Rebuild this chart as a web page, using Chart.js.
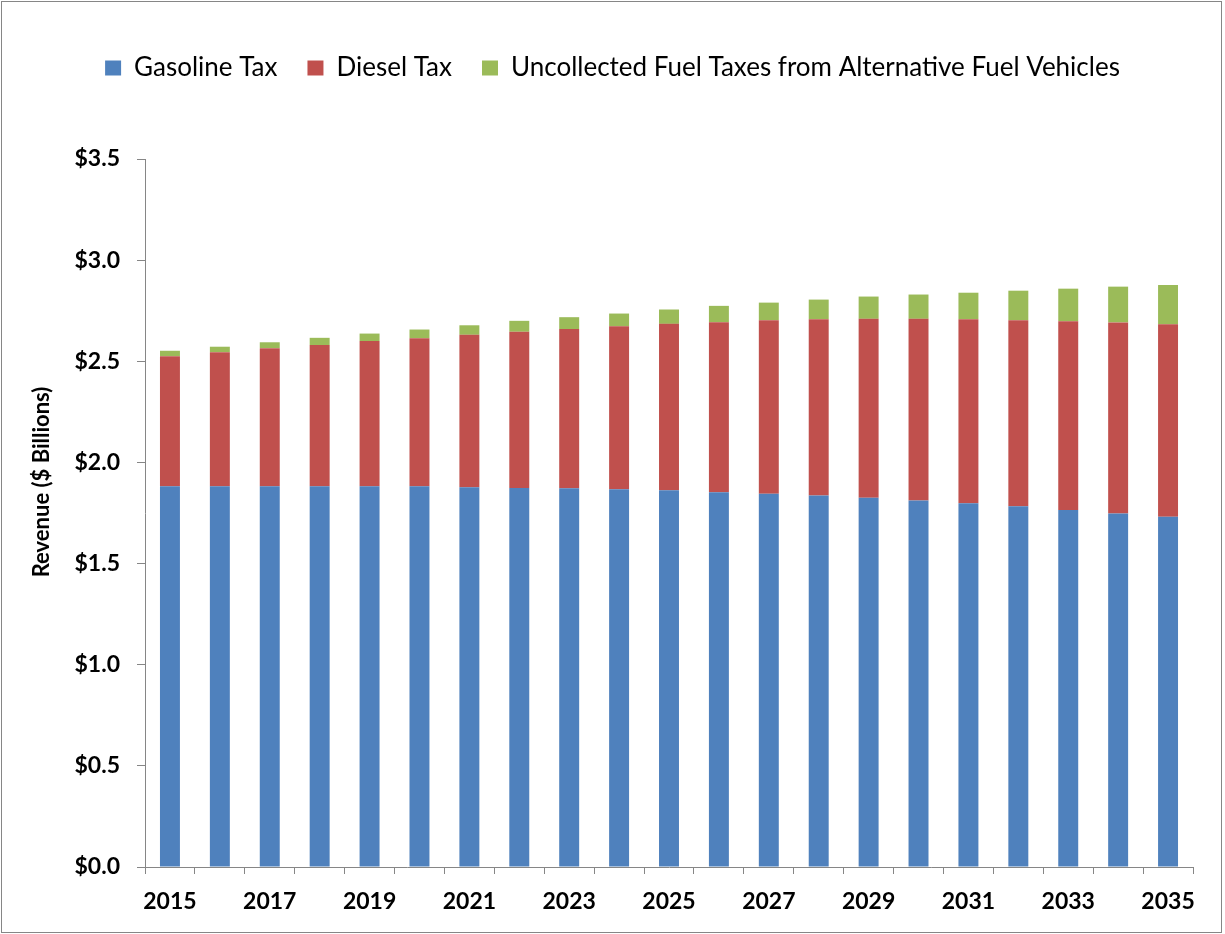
<!DOCTYPE html>
<html>
<head>
<meta charset="utf-8">
<script src="https://cdn.jsdelivr.net/npm/chart.js@4/dist/chart.umd.min.js"></script>
<style>
  body { margin: 0; background: #fff; }
  canvas { display: block; }
</style>
</head>
<body>
<canvas id="revChart" width="1225" height="934"></canvas>
<script>
// data ($ billions)
const years = ['2015','2016','2017','2018','2019','2020','2021','2022','2023','2024','2025',
               '2026','2027','2028','2029','2030','2031','2032','2033','2034','2035'];
const gasolineTax = [1.882,1.882,1.882,1.882,1.882,1.882,1.877,1.873,1.872,1.867,1.862,
                     1.853,1.845,1.837,1.825,1.812,1.798,1.783,1.765,1.747,1.732];
const dieselTax = [0.643,0.663,0.683,0.698,0.718,0.732,0.754,0.773,0.787,0.806,0.823,
                   0.840,0.858,0.871,0.885,0.898,0.910,0.920,0.933,0.945,0.951];
const uncollected = [0.027,0.027,0.029,0.036,0.037,0.043,0.047,0.054,0.059,0.063,0.071,
                     0.081,0.087,0.097,0.110,0.120,0.131,0.146,0.161,0.177,0.194];
const yTicks = [0, 0.5, 1.0, 1.5, 2.0, 2.5, 3.0, 3.5];

const axisGray = '#868686';
const tickFont = { family: 'Lato', size: 23, weight: 'bold' };

// border round the whole picture, extra room under the legend, rotated y title
const frame = {
    id: 'frame',
    beforeInit(chart) {
        const fit = chart.legend.fit;
        chart.legend.fit = function() {
            fit.call(this);
            this.height += 68;
        };
    },
    beforeDraw(chart) {
        const ctx = chart.ctx;
        ctx.save();
        ctx.fillStyle = '#fff';
        ctx.fillRect(0, 0, chart.width, chart.height);
        ctx.strokeStyle = axisGray;
        ctx.lineWidth = 1;
        ctx.strokeRect(1.5, 1.5, 1220, 931);
        ctx.restore();
    },
    afterDraw(chart) {
        const ctx = chart.ctx;
        const y = chart.scales.y;
        ctx.save();
        ctx.translate(42, (y.top + y.bottom) / 2 - 31);
        ctx.rotate(-Math.PI / 2);
        ctx.font = 'bold 22px Lato';
        ctx.fillStyle = '#000';
        ctx.textAlign = 'center';
        ctx.textBaseline = 'middle';
        ctx.fillText('Revenue ($ Billions)', 0, 0);
        ctx.restore();
    }
};

new Chart(document.getElementById('revChart').getContext('2d'), {
    type: 'bar',
    data: {
        labels: years,
        datasets: [{
            label: 'Gasoline Tax',
            data: gasolineTax,
            backgroundColor: '#4F81BD'
        }, {
            label: 'Diesel Tax',
            data: dieselTax,
            backgroundColor: '#C0504D'
        }, {
            label: 'Uncollected Fuel Taxes from Alternative Fuel Vehicles',
            data: uncollected,
            backgroundColor: '#9BBB59'
        }]
    },
    options: {
        responsive: false,
        animation: false,
        layout: { padding: { top: 25, right: 32, bottom: 0, left: 32 } },
        datasets: { bar: { categoryPercentage: 1, barPercentage: 0.4 } },
        plugins: {
            legend: {
                position: 'top',
                labels: {
                    boxWidth: 16,
                    boxHeight: 15,
                    padding: 30,
                    color: '#000',
                    font: { family: 'Lato', size: 26 }
                }
            },
            tooltip: { enabled: false }
        },
        scales: {
            x: {
                stacked: true,
                offset: true,
                grid: { offset: true, drawOnChartArea: false, color: axisGray, tickLength: 7 },
                border: { color: axisGray },
                ticks: {
                    autoSkip: false,
                    maxRotation: 0,
                    padding: 14,
                    color: '#000',
                    font: tickFont,
                    callback: (v, i) => (i % 2 === 0 ? years[i] : '')
                },
                afterFit: s => { s.height = 67; }
            },
            y: {
                stacked: true,
                min: 0,
                max: 3.5,
                afterBuildTicks: s => { s.ticks = yTicks.map(v => ({ value: v })); },
                grid: { drawOnChartArea: false, color: axisGray, tickLength: 8 },
                border: { color: axisGray },
                ticks: {
                    padding: 17,
                    color: '#000',
                    font: tickFont,
                    callback: v => '$' + v.toFixed(1)
                },
                afterFit: s => { s.width = 113; }
            }
        }
    },
    plugins: [frame]
});
</script>
</body>
</html>
